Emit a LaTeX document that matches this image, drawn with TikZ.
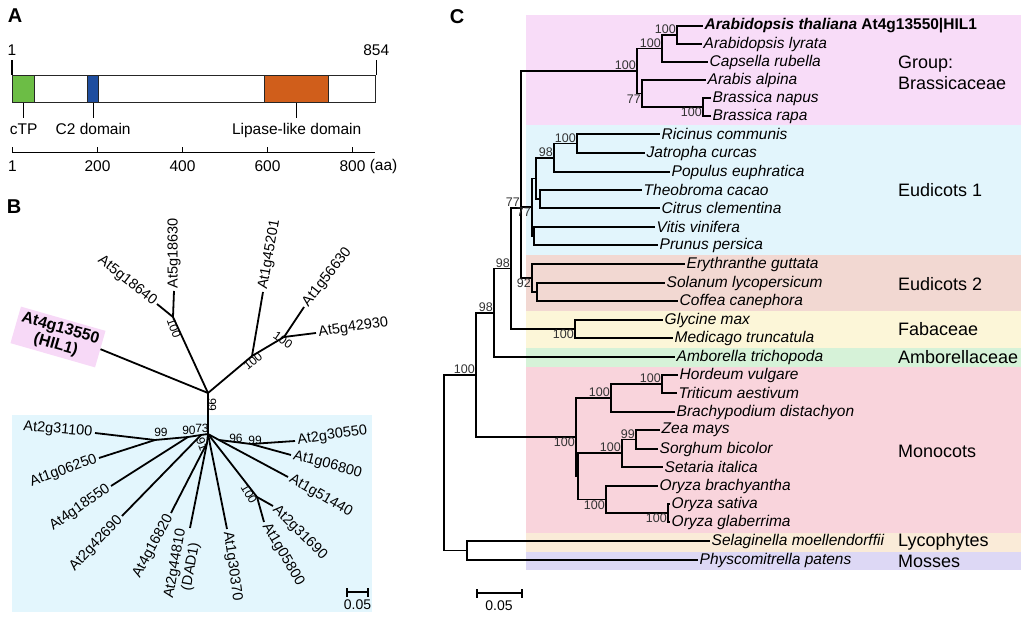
\documentclass[tikz,border=0pt]{standalone}
\usepackage{fontspec}
\setmainfont{Liberation Sans}
\usetikzlibrary{positioning}
\definecolor{brassbg}{HTML}{F8DCF8}
\definecolor{eudionebg}{HTML}{E2F5FC}
\definecolor{euditwobg}{HTML}{F2D8D2}
\definecolor{fababg}{HTML}{FCF6D8}
\definecolor{amborbg}{HTML}{D6F2D8}
\definecolor{monobg}{HTML}{F9D4DC}
\definecolor{lycobg}{HTML}{FAEBD8}
\definecolor{mossbg}{HTML}{DDD8F5}
\definecolor{hilbg}{HTML}{F7D9F7}
\definecolor{panelbbg}{HTML}{E3F6FD}
\definecolor{ctpgreen}{HTML}{6CBD45}
\definecolor{ctwoblue}{HTML}{1F4E9F}
\definecolor{lipaseorange}{HTML}{D05E1B}

\begin{document}
\begin{tikzpicture}[x=1pt,y=-1pt,
    panellabel/.style={font=\fontsize{20}{20}\selectfont\bfseries, inner sep=0pt},
    atext/.style={font=\fontsize{15.5}{17}\selectfont, inner sep=1pt},
    domainbox/.style={draw=black!85, line width=1.3pt, inner sep=0pt, minimum height=27pt, anchor=north west},
    thinline/.style={line width=1pt},
    leaf/.style={font=\fontsize{14.5}{16}\selectfont, inner sep=2.5pt},
    bootB/.style={font=\fontsize{12}{12}\selectfont, inner sep=0pt},
    bline/.style={line width=1.8pt},
    taxon/.style={anchor=west, inner sep=1.5pt, font=\fontsize{15.5}{17}\selectfont\itshape},
    boot/.style={inner sep=1pt, font=\fontsize{12.5}{12.5}\selectfont, text=black!80},
    tline/.style={line width=1.4pt},
    grouplabel/.style={anchor=west, inner sep=0pt, align=left, font=\fontsize{18}{21}\selectfont},
    scalebar/.style={line width=1.2pt}
  ]
  \useasboundingbox (0,0) rectangle (1029,620);

  % ---------- A: domain structure ----------
  \node[panellabel] (lblA) at (15,16) {A};
  \node[domainbox, fill=white, minimum width=363pt] (protein) at (12,75) {};
  \node[domainbox, fill=ctpgreen, minimum width=22pt] (ctpdom) at (12,75) {};
  \node[domainbox, fill=ctwoblue, minimum width=11pt] (ctwodom) at (87,75) {};
  \node[domainbox, fill=lipaseorange, minimum width=64pt] (lipdom) at (264,75) {};
  \draw[line width=1.3pt] (protein.north west) -- ++(0,-15) coordinate (startTick);
  \draw[line width=1.3pt] (protein.north east) -- ++(0,-15) coordinate (endTick);
  \node[atext, above=3pt of startTick] (startNum) {1};
  \node[atext, above=3pt of endTick] (endNum) {854};
  \draw[thinline] (ctpdom.south) -- ++(0,15) coordinate (ctpTick);
  \draw[thinline] (ctwodom.south) -- ++(0,15) coordinate (ctwoTick);
  \draw[thinline] (lipdom.south) -- ++(0,15) coordinate (lipTick);
  \node[atext, below=4pt of ctpTick] (ctpLbl) {cTP};
  \node[atext, below=4pt of ctwoTick] (ctwoLbl) {C2 domain};
  \node[atext, below=4pt of lipTick] (lipLbl) {Lipase-like domain};
  % axis
  \draw[thinline] (12,153) coordinate (axStart) -- (375,153) coordinate (axEnd);
  \draw[thinline] (12.4,153) -- ++(0,-6);
  \draw[thinline] (97.5,153) -- ++(0,-6);
  \draw[thinline] (182.5,153) -- ++(0,-6);
  \draw[thinline] (267.5,153) -- ++(0,-6);
  \draw[thinline] (352.5,153) -- ++(0,-6);
  \node[atext] (axOne) at (12.4,166) {1};
  \node[atext] (axTwo) at (97.5,166) {200};
  \node[atext] (axFour) at (182.5,166) {400};
  \node[atext] (axSix) at (267.5,166) {600};
  \node[atext] (axEight) at (352.5,166) {800};
  \node[atext, right=2pt of axEight] (axUnit) {(aa)};

  % ---------- B: unrooted tree ----------
  \node[panellabel] (lblB) at (14,207) {B};
  \fill[panelbbg] (12,415) rectangle (372,612);
  \node[fill=hilbg, rotate=-16, align=center, minimum width=88pt, minimum height=38pt, inner sep=1pt,
        font=\fontsize{16}{17}\selectfont\bfseries] (hil) at (58,337) {At4g13550\\(HIL1)};

  \coordinate (cU) at (208,393);
  \coordinate (cL) at (208,434);
  \coordinate (nUpA) at (173,317);
  \coordinate (nUpB) at (252,356);
  \coordinate (nUpC) at (284,337);
  \coordinate (nSeventyThree) at (201,435);
  \coordinate (nNinety) at (188,437);
  \coordinate (nLeftNN) at (155,440);
  \coordinate (nNinetyOne) at (207,443);
  \coordinate (nLowHundred) at (257,497);
  \coordinate (nNinetySix) at (219,440);
  \coordinate (nRightNN) at (251,444);

  \node[leaf, rotate=-38, anchor=east] (at5g18640) at (157,304) {At5g18640};
  \node[leaf, rotate=90, anchor=west] (at5g18630) at (174,291) {At5g18630};
  \node[leaf, rotate=80, anchor=west] (at1g45201) at (263,292) {At1g45201};
  \node[leaf, rotate=52, anchor=west] (at1g56630) at (304,307) {At1g56630};
  \node[leaf, rotate=8, anchor=west] (at5g42930) at (316,333) {At5g42930};
  \node[leaf, rotate=-5, anchor=east] (at2g31100) at (95,433) {At2g31100};
  \node[leaf, rotate=20, anchor=east] (at1g06250) at (99,458) {At1g06250};
  \node[leaf, rotate=35, anchor=east] (at4g18550) at (111,486) {At4g18550};
  \node[leaf, rotate=47, anchor=east] (at2g42690) at (122,516) {At2g42690};
  \node[leaf, rotate=62, anchor=east] (at4g16820) at (171,513) {At4g16820};
  \node[leaf, rotate=80, anchor=east, align=center] (at2g44810) at (190,528) {At2g44810\\(DAD1)};
  \node[leaf, rotate=-82, anchor=west] (at1g30370) at (227,529) {At1g30370};
  \node[leaf, rotate=-60, anchor=west] (at1g05800) at (264,522) {At1g05800};
  \node[leaf, rotate=-45, anchor=west] (at2g31690) at (273,506) {At2g31690};
  \node[leaf, rotate=-30, anchor=west] (at1g51440) at (288,477) {At1g51440};
  \node[leaf, rotate=-15, anchor=west] (at1g06800) at (291,455) {At1g06800};
  \node[leaf, rotate=8, anchor=west] (at2g30550) at (295,441) {At2g30550};

  \draw[bline] (cU) -- (cL);
  \draw[bline] (cU) -- (hil.east);
  \draw[bline] (cU) -- (nUpA);
  \draw[bline] (nUpA) -- (at5g18640.east);
  \draw[bline] (nUpA) -- (at5g18630.west);
  \draw[bline] (cU) -- (nUpB);
  \draw[bline] (nUpB) -- (at1g45201.west);
  \draw[bline] (nUpB) -- (nUpC);
  \draw[bline] (nUpC) -- (at1g56630.west);
  \draw[bline] (nUpC) -- (at5g42930.west);
  \draw[bline] (cL) -- (nSeventyThree);
  \draw[bline] (nSeventyThree) -- (nNinety);
  \draw[bline] (nSeventyThree) -- (at2g42690.east);
  \draw[bline] (nNinety) -- (nLeftNN);
  \draw[bline] (nNinety) -- (at4g18550.east);
  \draw[bline] (nLeftNN) -- (at2g31100.east);
  \draw[bline] (nLeftNN) -- (at1g06250.east);
  \draw[bline] (cL) -- (nNinetyOne);
  \draw[bline] (nNinetyOne) -- (at4g16820.east);
  \draw[bline] (nNinetyOne) -- (at2g44810.east);
  \draw[bline] (cL) -- (at1g30370.west);
  \draw[bline] (cL) -- (nLowHundred);
  \draw[bline] (nLowHundred) -- (at1g05800.west);
  \draw[bline] (nLowHundred) -- (at2g31690.west);
  \draw[bline] (cL) -- (nNinetySix);
  \draw[bline] (nNinetySix) -- (at1g51440.west);
  \draw[bline] (nNinetySix) -- (nRightNN);
  \draw[bline] (nRightNN) -- (at2g30550.west);
  \draw[bline] (nRightNN) -- (at1g06800.west);

  \node[bootB, rotate=-90] (bsStem) at (212,405) {99};
  \node[bootB, rotate=-70] (bsUpA) at (174,328) {100};
  \node[bootB, rotate=40] (bsUpB) at (253,361) {100};
  \node[bootB, rotate=-35] (bsUpC) at (283,340) {100};
  \node[bootB] (bsLeftNN) at (161,432) {99};
  \node[bootB] (bsNinety) at (189,430) {90};
  \node[bootB] (bsSeventyThree) at (202,428) {73};
  \node[bootB, rotate=-70] (bsNinetyOne) at (202,444) {91};
  \node[bootB] (bsNinetySix) at (236,438) {96};
  \node[bootB] (bsRightNN) at (255,440) {99};
  \node[bootB, rotate=-60] (bsLowHundred) at (249,494) {100};

  \draw[scalebar] (347,592) coordinate (sbBl) -- (368,592) coordinate (sbBr);
  \draw[scalebar] (347,588) -- (347,597);
  \draw[scalebar] (368,588) -- (368,597);
  \node[font=\fontsize{14}{14}\selectfont, inner sep=0pt] (sbBlbl) at (357.5,605) {0.05};

  % ---------- C: species tree ----------
  \node[panellabel] (lblC) at (457,17) {C};
  \fill[brassbg] (526,15) rectangle (1021,125);
  \fill[eudionebg] (526,125) rectangle (1021,255);
  \fill[euditwobg] (526,255) rectangle (1021,311);
  \fill[fababg] (526,311) rectangle (1021,348);
  \fill[amborbg] (526,348) rectangle (1021,367);
  \fill[monobg] (526,367) rectangle (1021,533);
  \fill[lycobg] (526,533) rectangle (1021,552);
  \fill[mossbg] (526,552) rectangle (1021,570);

  \node[grouplabel] (grpBrass) at (898,73) {Group:\\Brassicaceae};
  \node[grouplabel] (grpEudOne) at (898,190) {Eudicots 1};
  \node[grouplabel] (grpEudTwo) at (898,284) {Eudicots 2};
  \node[grouplabel] (grpFab) at (898,329) {Fabaceae};
  \node[grouplabel] (grpAmb) at (898,357) {Amborellaceae};
  \node[grouplabel] (grpMono) at (898,451) {Monocots};
  \node[grouplabel] (grpLyco) at (898,542) {Lycophytes};
  \node[grouplabel] (grpMoss) at (898,561) {Mosses};

  \node[taxon] (ath) at (703,26) {\bfseries Arabidopsis thaliana \upshape At4g13550|HIL1};
  \node[taxon] (aly) at (702,44) {Arabidopsis lyrata};
  \node[taxon] (cru) at (708,62) {Capsella rubella};
  \node[taxon] (aal) at (706,80) {Arabis alpina};
  \node[taxon] (bna) at (711,98) {Brassica napus};
  \node[taxon] (bra) at (711,116) {Brassica rapa};
  \node[taxon] (rco) at (660,134) {Ricinus communis};
  \node[taxon] (jcu) at (645,153) {Jatropha curcas};
  \node[taxon] (peu) at (670,172) {Populus euphratica};
  \node[taxon] (tca) at (642,190) {Theobroma cacao};
  \node[taxon] (ccl) at (660,208) {Citrus clementina};
  \node[taxon] (vvi) at (655,227) {Vitis vinifera};
  \node[taxon] (ppe) at (658,245) {Prunus persica};
  \node[taxon] (egu) at (685,264) {Erythranthe guttata};
  \node[taxon] (sly) at (665,283) {Solanum lycopersicum};
  \node[taxon] (cca) at (678,301) {Coffea canephora};
  \node[taxon] (gma) at (663,320) {Glycine max};
  \node[taxon] (mtr) at (673,338) {Medicago truncatula};
  \node[taxon] (atr) at (675,357) {Amborella trichopoda};
  \node[taxon] (hvu) at (678,375) {Hordeum vulgare};
  \node[taxon] (tae) at (677,393) {Triticum aestivum};
  \node[taxon] (bdi) at (675,412) {Brachypodium distachyon};
  \node[taxon] (zma) at (660,430) {Zea mays};
  \node[taxon] (sbi) at (658,449) {Sorghum bicolor};
  \node[taxon] (sit) at (663,467) {Setaria italica};
  \node[taxon] (obr) at (658,486) {Oryza brachyantha};
  \node[taxon] (osa) at (670,504) {Oryza sativa};
  \node[taxon] (ogl) at (670,522) {Oryza glaberrima};
  \node[taxon] (smo) at (710,541) {Selaginella moellendorffii};
  \node[taxon] (ppa) at (698,560) {Physcomitrella patens};

  \coordinate (nAthAly) at (677,35);
  \coordinate (nCru) at (662,48.5);
  \coordinate (nBra) at (703,107);
  \coordinate (nAal) at (642,93.5);
  \coordinate (nBrass) at (637,71);
  \coordinate (nRJ) at (577,143.5);
  \coordinate (nRJP) at (554,158);
  \coordinate (nTC) at (540,199);
  \coordinate (nRJPTC) at (536,178.5);
  \coordinate (nVP) at (534,236);
  \coordinate (nEudOne) at (532,207);
  \coordinate (nSC) at (537,292);
  \coordinate (nEudTwo) at (532,278);
  \coordinate (nCore) at (521,208);
  \coordinate (nFab) at (575,329);
  \coordinate (nCoreFab) at (511,268.5);
  \coordinate (nDicot) at (494,313);
  \coordinate (nHT) at (662,384);
  \coordinate (nPooid) at (611,398);
  \coordinate (nZS) at (636,439.5);
  \coordinate (nPan) at (622,453);
  \coordinate (nOsG) at (668,513);
  \coordinate (nOry) at (606,499.5);
  \coordinate (nPanOry) at (578,476);
  \coordinate (nMono) at (576,437);
  \coordinate (nAngio) at (476,375);
  \coordinate (nMoss) at (467,550.5);
  \coordinate (nRoot) at (444,463);

  \draw[tline] (nAthAly) |- (ath.west);
  \draw[tline] (nAthAly) |- (aly.west);
  \draw[tline] (nCru) |- (nAthAly);
  \draw[tline] (nCru) |- (cru.west);
  \draw[tline] (nBra) |- (bna.west);
  \draw[tline] (nBra) |- (bra.west);
  \draw[tline] (nAal) |- (aal.west);
  \draw[tline] (nAal) |- (nBra);
  \draw[tline] (nBrass) |- (nCru);
  \draw[tline] (nBrass) |- (nAal);
  \draw[tline] (nRJ) |- (rco.west);
  \draw[tline] (nRJ) |- (jcu.west);
  \draw[tline] (nRJP) |- (nRJ);
  \draw[tline] (nRJP) |- (peu.west);
  \draw[tline] (nTC) |- (tca.west);
  \draw[tline] (nTC) |- (ccl.west);
  \draw[tline] (nRJPTC) |- (nRJP);
  \draw[tline] (nRJPTC) |- (nTC);
  \draw[tline] (nVP) |- (vvi.west);
  \draw[tline] (nVP) |- (ppe.west);
  \draw[tline] (nEudOne) |- (nRJPTC);
  \draw[tline] (nEudOne) |- (nVP);
  \draw[tline] (nSC) |- (sly.west);
  \draw[tline] (nSC) |- (cca.west);
  \draw[tline] (nEudTwo) |- (egu.west);
  \draw[tline] (nEudTwo) |- (nSC);
  \draw[tline] (nCore) |- (nBrass);
  \draw[tline] (nCore) |- (nEudOne);
  \draw[tline] (nCore) |- (nEudTwo);
  \draw[tline] (nFab) |- (gma.west);
  \draw[tline] (nFab) |- (mtr.west);
  \draw[tline] (nCoreFab) |- (nCore);
  \draw[tline] (nCoreFab) |- (nFab);
  \draw[tline] (nDicot) |- (nCoreFab);
  \draw[tline] (nDicot) |- (atr.west);
  \draw[tline] (nHT) |- (hvu.west);
  \draw[tline] (nHT) |- (tae.west);
  \draw[tline] (nPooid) |- (nHT);
  \draw[tline] (nPooid) |- (bdi.west);
  \draw[tline] (nZS) |- (zma.west);
  \draw[tline] (nZS) |- (sbi.west);
  \draw[tline] (nPan) |- (nZS);
  \draw[tline] (nPan) |- (sit.west);
  \draw[tline] (nOsG) |- (osa.west);
  \draw[tline] (nOsG) |- (ogl.west);
  \draw[tline] (nOry) |- (obr.west);
  \draw[tline] (nOry) |- (nOsG);
  \draw[tline] (nPanOry) |- (nPan);
  \draw[tline] (nPanOry) |- (nOry);
  \draw[tline] (nMono) |- (nPooid);
  \draw[tline] (nMono) |- (nPanOry);
  \draw[tline] (nAngio) |- (nDicot);
  \draw[tline] (nAngio) |- (nMono);
  \draw[tline] (nMoss) |- (smo.west);
  \draw[tline] (nMoss) |- (ppa.west);
  \draw[tline] (nRoot) |- (nAngio);
  \draw[tline] (nRoot) |- (nMoss);

  % bootstrap values
  \node[boot, anchor=south east] (bsAthAly) at (nAthAly) {100};
  \node[boot, anchor=south east] (bsCru) at (nCru) {100};
  \node[boot, anchor=south east] (bsBrass) at (nBrass) {100};
  \node[boot, anchor=north east] (bsAal) at (nAal) {77};
  \node[boot, anchor=north east] (bsBra) at (nBra) {100};
  \node[boot, anchor=south east] (bsRJ) at (nRJ) {100};
  \node[boot, anchor=south east] (bsRJP) at (nRJP) {98};
  \node[boot, anchor=north east] (bsEudOne) at (nEudOne) {77};
  \node[boot, anchor=north east] (bsEudTwo) at (nEudTwo) {92};
  \node[boot, anchor=south east] (bsCore) at (nCore) {77};
  \node[boot, anchor=north east] (bsFab) at (nFab) {100};
  \node[boot, anchor=south east] (bsCoreFab) at (nCoreFab) {98};
  \node[boot, anchor=south east] (bsDicot) at (nDicot) {98};
  \node[boot, anchor=south east] (bsAngio) at (nAngio) {100};
  \node[boot, anchor=south east] (bsHT) at (nHT) {100};
  \node[boot, anchor=south east] (bsPooid) at (nPooid) {100};
  \node[boot, anchor=south east] (bsZS) at (nZS) {99};
  \node[boot, anchor=south east] (bsPan) at (nPan) {100};
  \node[boot, anchor=north east] (bsMono) at (nMono) {100};
  \node[boot, anchor=north east] (bsOry) at (nOry) {100};
  \node[boot, anchor=north east] (bsOsG) at (nOsG) {100};

  \draw[scalebar] (477,593) coordinate (sbCl) -- (522,593) coordinate (sbCr);
  \draw[scalebar] (477,589) -- (477,598);
  \draw[scalebar] (522,589) -- (522,598);
  \node[font=\fontsize{14}{14}\selectfont, inner sep=0pt] (sbClbl) at (499,606) {0.05};
\end{tikzpicture}
\end{document}
